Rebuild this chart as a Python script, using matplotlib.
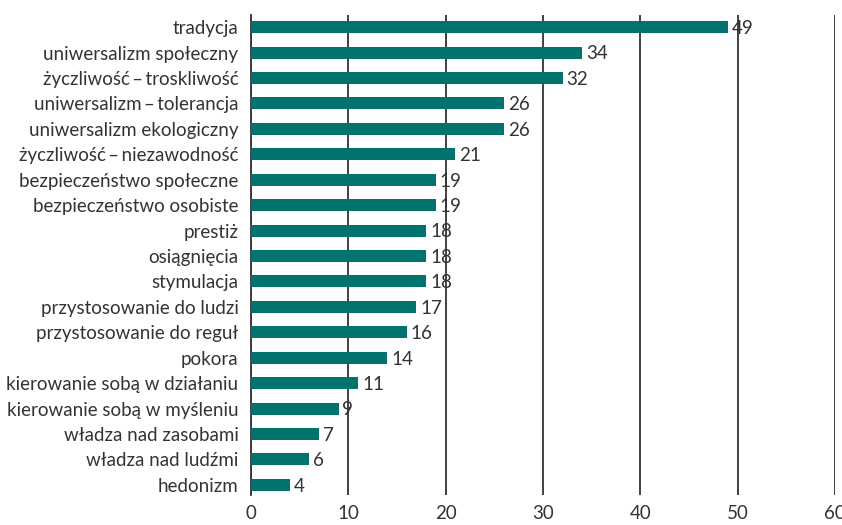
import matplotlib
matplotlib.use("Agg")
import matplotlib.pyplot as plt

# wartosci
categories = ["tradycja", "uniwersalizm społeczny", "życzliwość\u2009–\u2009troskliwość",
              "uniwersalizm\u2009–\u2009tolerancja", "uniwersalizm ekologiczny",
              "życzliwość\u2009–\u2009niezawodność", "bezpieczeństwo społeczne",
              "bezpieczeństwo osobiste", "prestiż", "osiągnięcia", "stymulacja",
              "przystosowanie do ludzi", "przystosowanie do reguł", "pokora",
              "kierowanie sobą w działaniu", "kierowanie sobą w myśleniu",
              "władza nad zasobami", "władza nad ludźmi", "hedonizm"]
values = [49, 34, 32, 26, 26, 21, 19, 19, 18, 18, 18, 17, 16, 14, 11, 9, 7, 6, 4]
xticks = [0, 10, 20, 30, 40, 50, 60]

plt.rcParams['font.family'] = ['Lato', 'DejaVu Sans']
txt = '#333333'

fig = plt.figure(figsize=(8.42, 5.25), dpi=100)
ax = fig.add_axes([0.298, 0.057, 0.694, 0.914])

y = list(range(len(categories)))
ax.barh(y, values, height=0.47, color='#00736f', zorder=3)
for yi, v in zip(y, values):
    ax.text(v + 0.4, yi + 0.05, str(v), va='center', ha='left', fontsize=13.5, color=txt, zorder=4)

ax.set_xlim(0, 60)
ax.set_ylim(18.4, -0.47)
ax.set_xticks(xticks)
ax.set_yticks(y)
ax.set_yticklabels(categories, fontsize=13.5, color=txt)
ax.tick_params(axis='x', length=0, pad=7, labelsize=13.5, labelcolor=txt)
ax.tick_params(axis='y', length=0, pad=9)
ax.grid(axis='x', color='#333333', linewidth=1.3, zorder=0)
for s in ['top', 'right', 'bottom']:
    ax.spines[s].set_visible(False)
ax.spines['left'].set_color('#333333')
ax.spines['left'].set_linewidth(1.3)

fig.savefig('out.png', dpi=100)
